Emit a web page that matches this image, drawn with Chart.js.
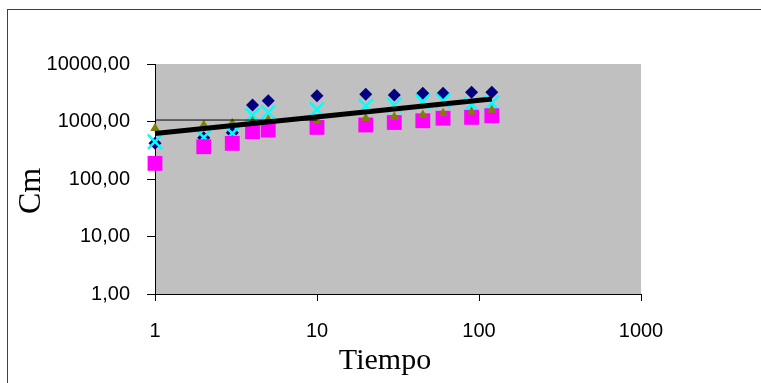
<!DOCTYPE html>
<html>
<head>
<meta charset="utf-8">
<script src="https://cdn.jsdelivr.net/npm/chart.js@4"></script>
<style>
  html, body { margin: 0; padding: 0; background: #fff; }
  #wrap { width: 761px; height: 383px; }
</style>
</head>
<body>
<div id="wrap"><canvas id="myChart" width="761" height="383"></canvas></div>
<script>
// datos
var tiempo = [1, 2, 3, 4, 5, 10, 20, 30, 45, 60, 90, 120];
var serieRombo = [420, 520, 640, 1940, 2300, 2810, 2970, 2890, 3090, 3090, 3220, 3220];
var serieCuadrado = [187, 364, 417, 665, 710, 790, 870, 960, 1030, 1140, 1180, 1260];
var serieTriangulo = [760, 870, 930, 1000, 1070, 1030, 1140, 1210, 1300, 1390, 1480, 1590];
var serieAspa = [445, 530, 620, 1290, 1440, 1620, 1860, 1940, 2200, 2300, 2000, 2100];

// lineas de tendencia
var tendX = [1, 120];
var tendY = [620, 2460];
var finaX = [1, 10];
var finaY = [1060, 1060];

var xTicks = [1, 10, 100, 1000];
var xLabels = ["1", "10", "100", "1000"];
var yTicks = [1, 10, 100, 1000, 10000];
var yLabels = ["1,00", "10,00", "100,00", "1000,00", "10000,00"];

function pares(xs, ys) {
    return xs.map(function (x, i) { return { x: x, y: ys[i] }; });
}

// fondo gris, marco y titulos
var fondo = {
    id: 'fondo',
    beforeDraw: function (chart) {
        var ctx = chart.ctx, a = chart.chartArea;
        ctx.save();
        ctx.fillStyle = '#fff';
        ctx.fillRect(0, 0, chart.width, chart.height);
        ctx.strokeStyle = '#404040';
        ctx.lineWidth = 1;
        ctx.strokeRect(7.5, 9.5, 900, 500);
        ctx.fillStyle = '#c0c0c0';
        ctx.fillRect(a.left, a.top, a.right - a.left, a.bottom - a.top);
        ctx.restore();
    },
    afterDraw: function (chart) {
        var ctx = chart.ctx;
        ctx.save();
        ctx.fillStyle = '#000';
        ctx.textAlign = 'center';
        ctx.textBaseline = 'middle';
        ctx.font = '30px "Liberation Serif"';
        ctx.fillText('Tiempo', 385, 361);
        ctx.translate(32, 191);
        ctx.rotate(-Math.PI / 2);
        ctx.font = '32px "Liberation Serif"';
        ctx.fillText('Cm', 0, 0);
        ctx.restore();
    }
};

var ctx = document.getElementById("myChart").getContext('2d');
new Chart(ctx, {
    type: 'scatter',
    data: {
        datasets: [
            {
                label: 'Tendencia',
                data: pares(tendX, tendY),
                showLine: true,
                borderColor: '#000',
                borderWidth: 5,
                pointRadius: 0,
                clip: false,
                order: 0
            },
            {
                label: 'Linea',
                data: pares(finaX, finaY),
                showLine: true,
                borderColor: '#000',
                borderWidth: 1,
                pointRadius: 0,
                order: 0
            },
            {
                label: 'Serie 3',
                data: pares(tiempo, serieTriangulo),
                pointStyle: 'triangle',
                pointRadius: 5.5,
                backgroundColor: '#808000',
                borderColor: '#808000',
                borderWidth: 0,
                clip: false,
                order: 1
            },
            {
                label: 'Serie 2',
                data: pares(tiempo, serieCuadrado),
                pointStyle: 'rect',
                pointRadius: 10.5,
                backgroundColor: '#ff00ff',
                borderColor: '#ff00ff',
                borderWidth: 0,
                clip: false,
                order: 2
            },
            {
                label: 'Serie 4',
                data: pares(tiempo, serieAspa),
                pointStyle: 'crossRot',
                pointRadius: 10,
                borderColor: '#00ffff',
                borderWidth: 2.5,
                clip: false,
                order: 3
            },
            {
                label: 'Serie 1',
                data: pares(tiempo, serieRombo),
                pointStyle: 'rectRot',
                pointRadius: 6.5,
                backgroundColor: '#000080',
                borderColor: '#000080',
                borderWidth: 0,
                clip: false,
                order: 4
            }
        ]
    },
    options: {
        responsive: false,
        animation: false,
        layout: { padding: { top: 64, right: 120, left: 0, bottom: 0 } },
        plugins: {
            legend: { display: false },
            tooltip: { enabled: false }
        },
        scales: {
            x: {
                type: 'logarithmic',
                min: 1,
                max: 1000,
                afterBuildTicks: function (s) { s.ticks = xTicks.map(function (v) { return { value: v }; }); },
                afterFit: function (s) { s.height = 89; },
                grid: { drawOnChartArea: false, tickLength: 7, color: '#000' },
                border: { color: '#000', width: 1 },
                ticks: {
                    padding: 18,
                    maxRotation: 0,
                    color: '#000',
                    font: { family: '"Liberation Sans"', size: 20 },
                    callback: function (v) { return xLabels[xTicks.indexOf(v)]; }
                }
            },
            y: {
                type: 'logarithmic',
                min: 1,
                max: 10000,
                afterBuildTicks: function (s) { s.ticks = yTicks.map(function (v) { return { value: v }; }); },
                afterFit: function (s) { s.width = 155; },
                grid: { drawOnChartArea: false, tickLength: 8, color: '#000' },
                border: { color: '#000', width: 1 },
                ticks: {
                    padding: 17,
                    color: '#000',
                    font: { family: '"Liberation Sans"', size: 20 },
                    callback: function (v) { return yLabels[yTicks.indexOf(v)]; }
                }
            }
        }
    },
    plugins: [fondo]
});
</script>
</body>
</html>
